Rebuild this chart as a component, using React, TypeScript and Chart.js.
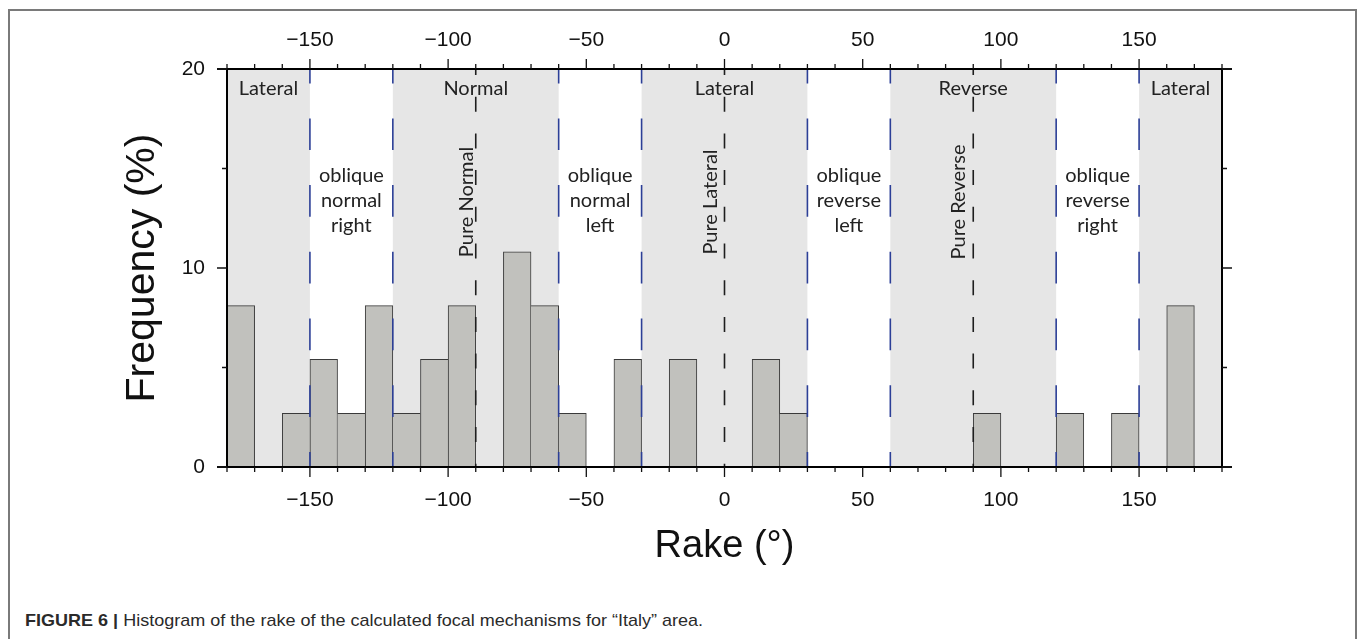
import React, { useEffect, useRef } from 'react';
import { Chart, registerables } from 'chart.js';

Chart.register(...registerables);

// ---- data ----
const binCenters = [
  -175, -165, -155, -145, -135, -125, -115, -105, -95, -85, -75, -65,
  -55, -45, -35, -25, -15, -5, 5, 15, 25, 35, 45, 55,
  65, 75, 85, 95, 105, 115, 125, 135, 145, 155, 165, 175,
];
const frequency = [
  8.11, 0, 2.7, 5.41, 2.7, 8.11, 2.7, 5.41, 8.11, 0, 10.81, 8.11,
  2.7, 0, 5.41, 0, 5.41, 0, 0, 5.41, 2.7, 0, 0, 0,
  0, 0, 0, 2.7, 0, 0, 2.7, 0, 2.7, 0, 8.11, 0,
];
const shadedBands: [number, number][] = [
  [-180, -150], [-120, -60], [-30, 30], [60, 120], [150, 180],
];
const bandLabels = [
  { x: -165, text: 'Lateral' },
  { x: -90, text: 'Normal' },
  { x: 0, text: 'Lateral' },
  { x: 90, text: 'Reverse' },
  { x: 165, text: 'Lateral' },
];
const obliqueBoundaries = [-150, -120, -60, -30, 30, 60, 120, 150];
const pureLines = [-90, 0, 90];
const pureLabels = ['Pure Normal', 'Pure Lateral', 'Pure Reverse'];
const obliqueLabels = [
  { x: -135, lines: ['oblique', 'normal', 'right'] },
  { x: -45, lines: ['oblique', 'normal', 'left'] },
  { x: 45, lines: ['oblique', 'reverse', 'left'] },
  { x: 135, lines: ['oblique', 'reverse', 'right'] },
];
const xLabelEvery = 50;
const yLabelEvery = 10;
const xRange = [-180, 180];
const yRange = [0, 20];

// ---- styles ----
const AXIS_FONT = '"Liberation Sans", Arial, Helvetica, sans-serif';
const NOTE_FONT = 'Lato, "Open Sans", sans-serif';
const pureLabelShift = [-3, -8, -8.5];

const fmt = (v: number) => String(Math.round(v)).replace('-', '\u2212');

export default function App() {
  const ref = useRef<HTMLCanvasElement>(null);

  useEffect(() => {
    const canvas = ref.current!;
    const px = (c: any, v: number) => c.scales.x.getPixelForValue(v);
    const py = (c: any, v: number) => c.scales.y.getPixelForValue(v);

    const annotations = {
      id: 'rakeAnnotations',
      beforeDatasetsDraw(c: any) {
        const { ctx, chartArea: a } = c;
        ctx.save();
        ctx.fillStyle = '#e6e6e6';
        for (const [s, e] of shadedBands) {
          const x0 = px(c, s);
          const x1 = px(c, e);
          ctx.fillRect(x0, a.top, x1 - x0, a.bottom - a.top);
        }
        ctx.restore();
      },
      afterDatasetsDraw(c: any) {
        const { ctx, chartArea: a } = c;
        ctx.save();
        // blue dashed boundaries
        ctx.strokeStyle = '#2c3f97';
        ctx.lineWidth = 1.6;
        ctx.setLineDash([31.7, 35]);
        ctx.lineDashOffset = 17.3;
        for (const v of obliqueBoundaries) {
          const x = px(c, v);
          ctx.beginPath();
          ctx.moveTo(x, a.top);
          ctx.lineTo(x, a.bottom);
          ctx.stroke();
        }
        // black dashed pure lines
        ctx.strokeStyle = '#1e1e1e';
        ctx.setLineDash([15, 21.7]);
        ctx.lineDashOffset = 9;
        for (const v of pureLines) {
          const x = px(c, v);
          ctx.beginPath();
          ctx.moveTo(x, a.top);
          ctx.lineTo(x, a.bottom);
          ctx.stroke();
        }
        ctx.setLineDash([]);

        // texts
        ctx.fillStyle = '#222';
        ctx.font = `20px ${NOTE_FONT}`;
        ctx.textAlign = 'center';
        ctx.textBaseline = 'alphabetic';
        for (const b of bandLabels) {
          ctx.fillText(b.text, px(c, b.x), a.top + 25.5);
        }
        for (const o of obliqueLabels) {
          o.lines.forEach((t, i) => {
            ctx.fillText(t, px(c, o.x), a.top + 112.7 + i * 25);
          });
        }
        pureLabels.forEach((t, i) => {
          ctx.save();
          ctx.translate(px(c, pureLines[i]) + pureLabelShift[i], a.top + 133);
          ctx.rotate(-Math.PI / 2);
          ctx.fillText(t, 0, 0);
          ctx.restore();
        });
        ctx.restore();
      },
      afterDraw(c: any) {
        const { ctx, chartArea: a } = c;
        ctx.save();
        ctx.strokeStyle = '#111';
        ctx.lineWidth = 1.3;
        const xs = c.scales.x.ticks.map((t: any) => t.value);
        for (const v of xs) {
          const x = px(c, v);
          const len = Math.round(v) % xLabelEvery === 0 ? 10 : 5;
          ctx.beginPath();
          ctx.moveTo(x, a.bottom);
          ctx.lineTo(x, a.bottom + len);
          ctx.moveTo(x, a.top);
          ctx.lineTo(x, a.top - len);
          ctx.stroke();
        }
        const ys = c.scales.y.ticks.map((t: any) => t.value);
        for (const v of ys) {
          const y = py(c, v);
          const len = Math.round(v) % yLabelEvery === 0 ? 10 : 5;
          ctx.lineWidth = len === 10 && (v === yRange[0] || v === yRange[1]) ? 2 : 1.3;
          ctx.beginPath();
          ctx.moveTo(a.left, y);
          ctx.lineTo(a.left - len, y);
          ctx.moveTo(a.right, y);
          ctx.lineTo(a.right + len, y);
          ctx.stroke();
        }
        ctx.restore();
      },
    };

    const border = { display: true, color: '#000', width: 2, z: 1 };
    const noGrid = { display: false, drawTicks: false };

    const chart = new Chart(canvas, {
      type: 'bar',
      data: {
        datasets: [
          {
            data: binCenters.map((x, i) => ({ x, y: frequency[i] })),
            backgroundColor: '#c1c1bd',
            borderColor: '#3a3a3a',
            borderSkipped: false,
            borderWidth: (ctx: any) => {
              const i = ctx.dataIndex;
              const v = frequency[i];
              if (!v) return 0;
              const prev = i > 0 ? frequency[i - 1] : 0;
              const next = i < frequency.length - 1 ? frequency[i + 1] : 0;
              return { left: prev > v ? 0 : 1, top: 1, right: next < v ? 1 : 0, bottom: 0 };
            },
            barPercentage: 1,
            categoryPercentage: 1,
            xAxisID: 'x',
            yAxisID: 'y',
          } as any,
        ],
      },
      options: {
        responsive: false,
        maintainAspectRatio: false,
        animation: false,
        events: [],
        layout: { padding: 0 },
        plugins: {
          legend: { display: false },
          tooltip: { enabled: false },
          title: { display: false },
        },
        scales: {
          x: {
            type: 'linear',
            position: 'bottom',
            min: xRange[0],
            max: xRange[1],
            offset: false,
            grid: noGrid,
            border,
            afterFit: (s: any) => { s.height = 172; },
            ticks: {
              stepSize: 10,
              autoSkip: false,
              maxRotation: 0,
              minRotation: 0,
              padding: 20.4,
              color: '#111',
              font: { family: AXIS_FONT, size: 21 },
              callback: (v: any) => (Math.round(v) % xLabelEvery === 0 && Math.abs(v) < 180 ? fmt(v) : ''),
            },
            title: {
              display: true,
              text: 'Rake (°)',
              color: '#111',
              font: { family: AXIS_FONT, size: 38, lineHeight: 1 },
              padding: { top: 0, bottom: 73 },
            },
          },
          x2: {
            type: 'linear',
            position: 'top',
            min: xRange[0],
            max: xRange[1],
            offset: false,
            grid: noGrid,
            border,
            afterFit: (s: any) => { s.height = 69; },
            ticks: {
              stepSize: 10,
              autoSkip: false,
              maxRotation: 0,
              minRotation: 0,
              padding: 15.9,
              color: '#111',
              font: { family: AXIS_FONT, size: 21 },
              callback: (v: any) => (Math.round(v) % xLabelEvery === 0 && Math.abs(v) < 180 ? fmt(v) : ''),
            },
          },
          y: {
            type: 'linear',
            position: 'left',
            min: yRange[0],
            max: yRange[1],
            grid: noGrid,
            border,
            afterFit: (s: any) => { s.width = 227; },
            ticks: {
              stepSize: 5,
              autoSkip: false,
              padding: 22,
              color: '#111',
              font: { family: AXIS_FONT, size: 21 },
              callback: (v: any) => (Math.round(v) % yLabelEvery === 0 ? String(v) : ''),
            },
            title: {
              display: true,
              text: 'Frequency (%)',
              color: '#111',
              font: { family: AXIS_FONT, size: 41, lineHeight: 1 },
              padding: { top: 122, bottom: 0 },
            },
          },
          y2: {
            type: 'linear',
            position: 'right',
            min: yRange[0],
            max: yRange[1],
            grid: noGrid,
            border,
            afterFit: (s: any) => { s.width = 141; },
            ticks: { display: false, stepSize: 5 },
          },
        },
      } as any,
      plugins: [annotations],
    });
    return () => chart.destroy();
  }, []);

  return (
    <div
      style={{
        position: 'fixed',
        left: 0,
        top: 0,
        width: 1363,
        height: 639,
        overflow: 'hidden',
        background: '#fff',
      }}
    >
      <div
        style={{
          position: 'absolute',
          left: 8,
          top: 9,
          width: 1349,
          height: 700,
          boxSizing: 'border-box',
          border: '2px solid #7a7a7a',
        }}
      />
      <div
        style={{
          position: 'absolute',
          left: 25,
          top: 611,
          whiteSpace: 'nowrap',
          fontFamily: AXIS_FONT,
          fontSize: 17,
          lineHeight: '20px',
          color: '#2a2a2a',
          transform: 'scaleX(1.06)',
          transformOrigin: 'left center',
        }}
      >
        <b>FIGURE 6 |</b> Histogram of the rake of the calculated focal mechanisms for “Italy” area.
      </div>
      <canvas
        ref={ref}
        width={1363}
        height={639}
        style={{ position: 'absolute', left: 0, top: 0, display: 'block' }}
      />
    </div>
  );
}
